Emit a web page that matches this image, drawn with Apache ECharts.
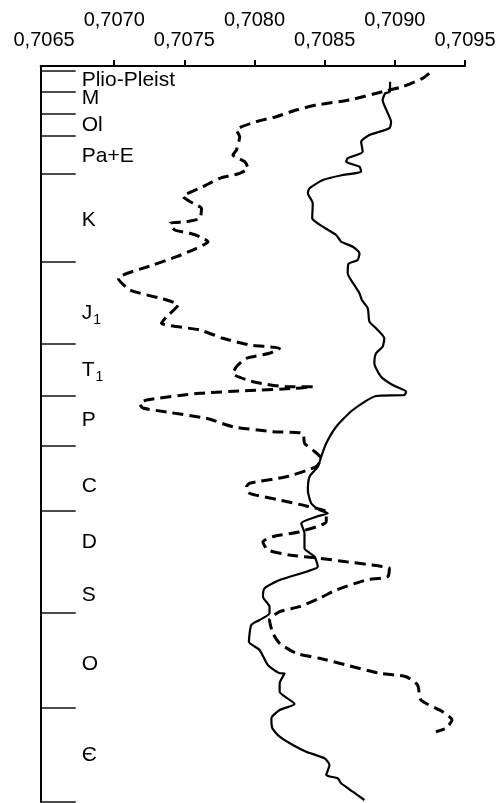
<!DOCTYPE html>
<html>
<head>
<meta charset="utf-8">
<script src="https://cdn.jsdelivr.net/npm/echarts@6/dist/echarts.min.js"></script>
<style>
html,body{margin:0;padding:0;background:#fff;}
#chart{width:501px;height:803px;}
</style>
</head>
<body>
<div id="chart"></div>
<script>
// 87Sr/86Sr values (x) versus stratigraphic position (y, 0 = top of column, 736 = base)
const solidX = [0.708966,0.708964,0.708932,0.708913,0.708949,0.708973,0.708961,0.708819,0.70876,0.708771,
0.708664,0.708653,0.708748,0.70876,0.708629,0.708487,0.708392,0.70838,0.708415,0.708411,
0.708487,0.708582,0.708617,0.7087,0.708748,0.708735,0.708669,0.708664,0.708719,0.708748,
0.708765,0.708807,0.708819,0.708866,0.708925,0.708913,0.708866,0.708854,0.708902,0.708984,
0.70908,0.709068,0.708866,0.7087,0.708582,0.708511,0.708475,0.708451,0.708392,0.70838,
0.708404,0.708463,0.708522,0.70844,0.708333,0.708356,0.708356,0.708428,0.708451,0.708368,
0.708179,0.708072,0.70806,0.708107,0.708107,0.708036,0.707977,0.70796,0.708036,0.708095,
0.708179,0.708214,0.708179,0.708179,0.708285,0.708179,0.70812,0.708127,0.708179,0.708273,
0.708368,0.708499,0.708534,0.708511,0.708593,0.708617,0.7087,0.708783];
const solidY = [15.7,25.7,27.3,34,47,55.7,62.3,69,75.7,85.7,
92.3,95.7,100.7,105.7,109,114,122.3,127.3,137.3,152.3,
160.7,169,175.7,180.7,187.3,194,198,207.3,220.7,227.3,
234,242.3,255.7,262.3,272.3,280.7,287.3,297.3,310.7,319,
325.7,329,330,344,360.7,377.3,390.7,400.7,410.7,424,
437.3,444,447.3,450.7,457.3,467.3,482.3,490.7,500.7,505.7,
514,522.3,530.7,540.7,547.3,554,559,575.7,584,599,
607.3,607.5,617.3,625.7,638,644,652.3,662.3,670.7,679,
685.7,692.3,699,709,712.3,717.3,725.7,734];

const dashedX = [0.709245,0.709198,0.709056,0.708913,0.708676,0.70844,0.708297,0.708155,0.708013,0.707871,
0.707894,0.707871,0.707846,0.70793,0.707953,0.707894,0.707752,0.707633,0.707491,0.707562,
0.707622,0.70761,0.707515,0.707396,0.707432,0.707538,0.70761,0.707669,0.707586,0.707444,
0.707277,0.707028,0.707112,0.707373,0.707455,0.707373,0.707337,0.70761,0.707775,0.707965,
0.708179,0.708107,0.707942,0.707871,0.707846,0.707989,0.708226,0.708415,0.708297,0.707965,
0.70761,0.70723,0.707183,0.707204,0.707373,0.707657,0.707846,0.708131,0.708344,0.708356,
0.708415,0.708475,0.70844,0.708226,0.707965,0.707942,0.707965,0.708179,0.708368,0.708511,
0.708511,0.708321,0.708131,0.70806,0.708095,0.70825,0.708463,0.708653,0.70889,0.708961,
0.708949,0.708795,0.708582,0.708463,0.708321,0.708179,0.708107,0.708131,0.708179,0.708297,
0.708463,0.708653,0.70889,0.70908,0.709162,0.709186,0.70934,0.709407,0.709364,0.709293];
const dashedY = [7.3,12.3,20.7,25.7,34,39,44,50.7,55.7,64,
70.7,84,89,95.7,102.3,107.3,112.3,120.7,130.7,137.3,
142.3,152.3,155.7,157.3,164,167.3,170.7,175.7,182.3,190.7,
199,212.3,224,234,239,250.7,257.3,264,272.3,279,
282.3,287.3,292.3,300.7,307.3,315.7,320.7,320.7,322.3,324.5,
327.3,334,338,342,346,352.3,360.7,365.7,367.3,377.3,
384,392.3,400.7,410.7,417.3,421,427.3,434,440,446,
455.7,465.7,470.7,475.7,484,489,492.3,495.7,500,502.3,
510.7,514,524,532.3,540.7,545.7,554,567.3,577.3,587.3,
592.3,599,607.3,610.7,619,634,645.7,654,662.3,665.7];

const boundaries = [4.7,25.7,48,70,108,195.7,278,329.3,379.7,445,546.7,641.7,736];
const periodNames = ['Plio-Pleist','M','Ol','Pa+E','K','J1','T1','P','C','D','S','O','Є'];
const periodPos = [14.3,32.7,59.5,90.3,154,247,304,354,420.7,476.5,529,598,689];

const xTicks = [0.707,0.7075,0.708,0.7085,0.709,0.7095];
const xLabelsLow = [0.7065,0.7075,0.7085,0.7095];
const xLabelsHigh = [0.707,0.708,0.709];

const xMin = 0.706476, xMax = 0.7095, yMax = 736;
const FONT = 'Liberation Sans';

const zip = (a, b) => a.map((v, i) => [v, b[i]]);
const fmt = v => v.toFixed(4).replace('.', ',');
const posEven = periodPos.filter((v, i) => i % 2 === 0);
const posOdd = periodPos.filter((v, i) => i % 2 === 1);

function periodLabel(v) {
  let k = periodPos.indexOf(v);
  if (k < 0) {
    let best = 0;
    periodPos.forEach((p, j) => { if (Math.abs(p - v) < Math.abs(periodPos[best] - v)) best = j; });
    k = best;
  }
  const n = periodNames[k];
  if (n === 'J1' || n === 'T1') return '{b|' + n[0] + '}{s|1}';
  return n;
}

const labelStyle = (vals) => ({
  show: true, inside: true, margin: 41, customValues: vals,
  showMinLabel: true, showMaxLabel: true, hideOverlap: false,
  color: '#000', fontFamily: FONT, fontSize: 21, align: 'left', verticalAlign: 'middle',
  formatter: periodLabel,
  rich: {
    b: {fontFamily: FONT, fontSize: 21, color: '#000', verticalAlign: 'bottom'},
    s: {fontFamily: FONT, fontSize: 14, color: '#000', verticalAlign: 'bottom', padding: [0, 0, -4, 1]}
  }
});

const chart = echarts.init(document.getElementById('chart'));
chart.setOption({
  animation: false,
  backgroundColor: '#fff',
  grid: {left: 40.7, right: 36, top: 66, bottom: 1, containLabel: false},
  xAxis: [{
    type: 'value', position: 'top', min: xMin, max: xMax,
    axisLine: {show: true, lineStyle: {color: '#000', width: 2}},
    axisTick: {show: true, inside: false, length: 6, customValues: xTicks, lineStyle: {color: '#000', width: 2}},
    splitLine: {show: false},
    axisLabel: {show: true, customValues: xLabelsLow, margin: 25.5, verticalAlign: 'middle',
      showMinLabel: true, showMaxLabel: true, hideOverlap: false,
      color: '#000', fontFamily: FONT, fontSize: 20, formatter: fmt}
  }, {
    type: 'value', position: 'top', min: xMin, max: xMax,
    axisLine: {show: false}, axisTick: {show: false}, splitLine: {show: false},
    axisLabel: {show: true, customValues: xLabelsHigh, margin: 45.5, verticalAlign: 'middle',
      showMinLabel: true, showMaxLabel: true, hideOverlap: false,
      color: '#000', fontFamily: FONT, fontSize: 20, formatter: fmt}
  }],
  yAxis: [{
    type: 'value', inverse: true, min: 0, max: yMax, position: 'left', offset: 0,
    axisLine: {show: true, lineStyle: {color: '#000', width: 2}},
    axisTick: {show: true, inside: true, length: 35, customValues: boundaries, lineStyle: {color: '#111', width: 1.5}},
    splitLine: {show: false},
    axisLabel: labelStyle(posEven)
  }, {
    type: 'value', inverse: true, min: 0, max: yMax, position: 'left', offset: 0,
    axisLine: {show: false}, axisTick: {show: false}, splitLine: {show: false},
    axisLabel: labelStyle(posOdd)
  }],
  series: [{
    type: 'line', name: 'solid', xAxisIndex: 0, yAxisIndex: 0, data: zip(solidX, solidY),
    showSymbol: false, symbol: 'none', smooth: 0.2,
    lineStyle: {color: '#000', width: 2.2, type: 'solid'}
  }, {
    type: 'line', name: 'dashed', xAxisIndex: 0, yAxisIndex: 0, data: zip(dashedX, dashedY),
    showSymbol: false, symbol: 'none', smooth: 0.2,
    lineStyle: {color: '#000', width: 3, type: [11, 6]}
  }]
});
</script>
</body>
</html>
